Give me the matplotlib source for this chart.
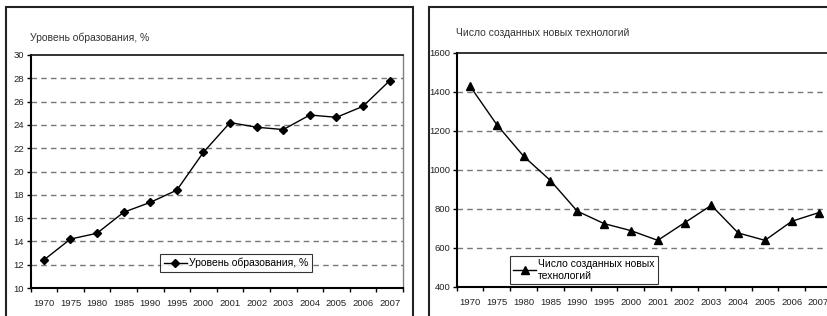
import matplotlib.pyplot as plt
from matplotlib.patches import Rectangle

plt.rcParams["font.family"] = ["Liberation Sans", "DejaVu Sans"]

years = ["1970", "1975", "1980", "1985", "1990", "1995", "2000",
         "2001", "2002", "2003", "2004", "2005", "2006", "2007"]
education = [12.4, 14.2, 14.7, 16.5, 17.35, 18.4, 21.65,
             24.2, 23.8, 23.6, 24.85, 24.65, 25.6, 27.8]
technologies = [1430, 1232, 1070, 945, 788, 724, 688,
                638, 728, 818, 676, 638, 736, 780]

W, H = 827, 316
fig = plt.figure(figsize=(W / 100, H / 100), dpi=100)
fig.patch.set_facecolor("white")


def px_axes(x0, y0, x1, y1):
    # pixel box (top-left origin) -> figure fraction axes
    return fig.add_axes([x0 / W, (H - y1) / H, (x1 - x0) / W, (y1 - y0) / H])


def frame(x0, y0, x1, y1):
    fig.patches.append(Rectangle((x0 / W, (H - y1) / H), (x1 - x0) / W, (y1 - y0) / H,
                                 transform=fig.transFigure, fill=False,
                                 edgecolor="#222222", linewidth=1.5))


def style(ax, ymin, ymax, step):
    x = range(len(years))
    ax.set_xlim(-0.5, len(years) - 0.5)
    ax.set_ylim(ymin, ymax)
    ax.set_xticks(list(x))
    ax.set_xticklabels(years, fontsize=6.8, color="#222222")
    ax.set_xticks([i - 0.5 for i in range(len(years) + 1)], minor=True)
    ax.tick_params(axis="x", which="major", length=0, pad=8)
    ax.tick_params(axis="x", which="minor", length=3, width=1, direction="out", color="black")
    ticks = list(range(ymin, ymax + 1, step))
    ax.set_yticks(ticks)
    ax.set_yticklabels([str(t) for t in ticks], fontsize=6.8, color="#222222")
    ax.tick_params(axis="y", length=3, width=1, direction="out", pad=1.5)
    for t in ticks[1:-1]:
        ax.axhline(t, color="#777777", linestyle=(0, (4, 3)), linewidth=1, zorder=1)
    for s in ["left", "bottom"]:
        ax.spines[s].set_linewidth(1.5)
        ax.spines[s].set_color("black")
    ax.spines["top"].set_linewidth(1.2)
    ax.spines["top"].set_color("#111111")
    ax.spines["right"].set_linewidth(1)
    ax.spines["right"].set_color("#808080")


# left chart
frame(6, 7, 413, 330)
ax1 = px_axes(30.5, 55, 403, 288)
ax1.plot(range(len(years)), education, color="black", linewidth=1,
         marker="D", markersize=4.5, label="Уровень образования, %", zorder=3)
style(ax1, 10, 30, 2)
fig.text(30 / W, (H - 38) / H, "Уровень образования, %", fontsize=7.5,
         color="#333333", va="center", ha="left")
leg1 = ax1.legend(loc="center", bbox_to_anchor=(236 / W, (H - 263) / H),
                  bbox_transform=fig.transFigure, fontsize=7.5, frameon=True,
                  fancybox=False, borderpad=0.35, handlelength=2.2, handletextpad=0.2)
leg1.get_frame().set_edgecolor("black")
leg1.get_frame().set_linewidth(0.8)

# right chart (cut off at the right edge, as in the source)
frame(429, 7, 900, 330)
ax2 = px_axes(456.6, 53, 832, 286.7)
ax2.plot(range(len(years)), technologies, color="black", linewidth=1,
         marker="^", markersize=5.5, label="Число созданных новых\nтехнологий", zorder=3)
style(ax2, 400, 1600, 200)
fig.text(456 / W, (H - 33) / H, "Число созданных новых технологий", fontsize=7.5,
         color="#333333", va="center", ha="left")
leg2 = ax2.legend(loc="center", bbox_to_anchor=(584 / W, (H - 270) / H),
                  bbox_transform=fig.transFigure, fontsize=7.5, frameon=True,
                  fancybox=False, borderpad=0.35, handlelength=2.2, handletextpad=0.2)
leg2.get_frame().set_edgecolor("black")
leg2.get_frame().set_linewidth(0.8)

fig.savefig("out.png", dpi=100)
